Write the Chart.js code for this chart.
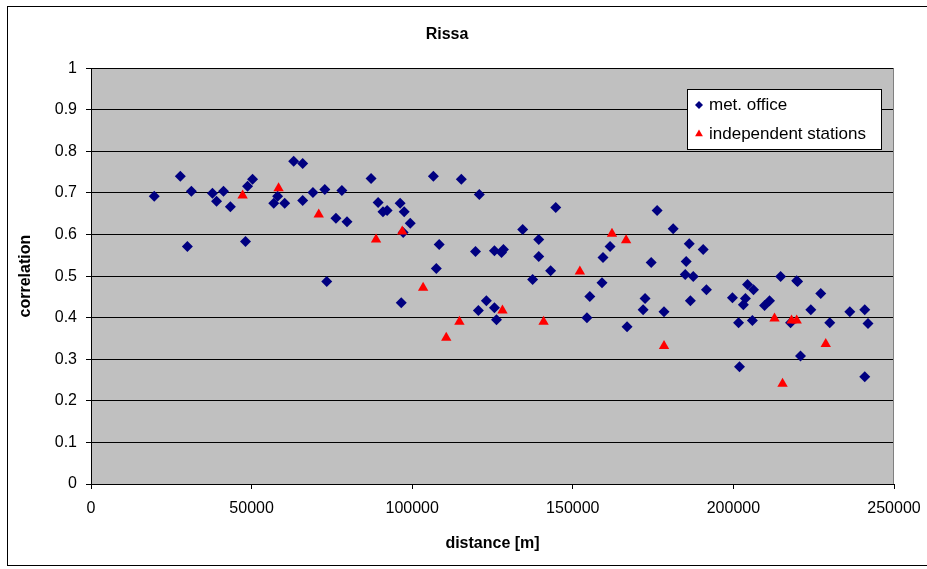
<!DOCTYPE html>
<html>
<head>
<meta charset="utf-8">
<script src="https://cdn.jsdelivr.net/npm/chart.js@4.4.1/dist/chart.umd.min.js"></script>
<style>
  html, body { margin: 0; padding: 0; background: #fff; }
  #wrap { width: 927px; height: 569px; }
</style>
</head>
<body>
<div id="wrap"><canvas id="rissaChart" width="927" height="569"></canvas></div>
<script>
// met. office stations
let metDistance = [19700, 27800, 30000, 31250, 37800, 39100, 41250, 43400, 48100, 48750,
    50300, 56900, 58100, 60300, 63100, 65900, 65900, 69100, 72800, 73400,
    76250, 78100, 79700, 87200, 89400, 90900, 92200, 96250, 96600, 97200,
    97500, 99400, 106600, 107500, 108400, 115300, 119700, 120600, 120900, 123100,
    125600, 125600, 126250, 127800, 128400, 134400, 137500, 139400, 139400, 143100,
    144700, 154400, 155300, 159100, 159400, 161600, 166900, 171900, 172500, 174400,
    176250, 178400, 181250, 185000, 185300, 186250, 186600, 187500, 190600, 191600,
    199700, 201600, 201900, 203100, 203750, 204400, 205900, 206250, 209700, 211250,
    214700, 217800, 219700, 220000, 220900, 224100, 227200, 230000, 236250, 240900,
    240900, 241900];
let metCorr = [0.692, 0.740, 0.571, 0.704, 0.699, 0.680, 0.704, 0.667, 0.583, 0.716,
    0.733, 0.675, 0.692, 0.675, 0.776, 0.771, 0.682, 0.701, 0.708, 0.487,
    0.639, 0.706, 0.631, 0.735, 0.677, 0.655, 0.658, 0.675, 0.436, 0.605,
    0.655, 0.627, 0.740, 0.518, 0.576, 0.733, 0.559, 0.417, 0.696, 0.441,
    0.424, 0.561, 0.395, 0.557, 0.564, 0.612, 0.492, 0.588, 0.547, 0.513,
    0.665, 0.400, 0.451, 0.484, 0.545, 0.571, 0.378, 0.419, 0.446, 0.533,
    0.658, 0.414, 0.614, 0.504, 0.535, 0.578, 0.441, 0.499, 0.564, 0.467,
    0.448, 0.388, 0.282, 0.431, 0.446, 0.480, 0.393, 0.467, 0.429, 0.441,
    0.499, 0.388, 0.489, 0.487, 0.308, 0.419, 0.458, 0.388, 0.414, 0.419,
    0.258, 0.386];

// independent stations
let indDistance = [47200, 58400, 70900, 88750, 96900, 103400, 110600, 114700, 128100, 140900,
    152200, 162200, 166600, 178400, 212800, 215300, 218100, 219700, 228750];
let indCorr = [0.694, 0.711, 0.648, 0.588, 0.607, 0.472, 0.352, 0.390, 0.417, 0.390,
    0.511, 0.602, 0.586, 0.332, 0.398, 0.241, 0.393, 0.393, 0.337];

let xTicks = [0, 50000, 100000, 150000, 200000, 250000];
let yTicks = [0, 0.1, 0.2, 0.3, 0.4, 0.5, 0.6, 0.7, 0.8, 0.9, 1];

const FONT = "'Liberation Sans', Arial, sans-serif";

function toPoints(xs, ys) {
    return xs.map(function (x, i) { return { x: x, y: ys[i] }; });
}

// grey plot area, outer frame and right border
const plotBackground = {
    id: "plotBackground",
    beforeDraw: function (chart) {
        let ctx = chart.ctx;
        let a = chart.chartArea;
        ctx.save();
        ctx.fillStyle = "#fff";
        ctx.fillRect(0, 0, chart.width, chart.height);
        ctx.strokeStyle = "#000";
        ctx.lineWidth = 1;
        ctx.strokeRect(7.5, 6.5, chart.width + 10, chart.height - 10);
        ctx.fillStyle = "#c0c0c0";
        ctx.fillRect(a.left, a.top, a.right - a.left, a.bottom - a.top);
        ctx.restore();
    },
    beforeDatasetsDraw: function (chart) {
        let ctx = chart.ctx;
        let a = chart.chartArea;
        ctx.save();
        ctx.strokeStyle = "#808080";
        ctx.lineWidth = 1;
        ctx.beginPath();
        ctx.moveTo(Math.round(a.right) - 0.5, a.top);
        ctx.lineTo(Math.round(a.right) - 0.5, a.bottom);
        ctx.stroke();
        ctx.restore();
    }
};

// legend box inside the plot area
const boxLegend = {
    id: "boxLegend",
    afterDraw: function (chart) {
        let ctx = chart.ctx;
        let bx = 687, by = 89, bw = 194, bh = 60;
        ctx.save();
        ctx.fillStyle = "#fff";
        ctx.fillRect(bx, by, bw, bh);
        ctx.strokeStyle = "#000";
        ctx.lineWidth = 1;
        ctx.strokeRect(bx + 0.5, by + 0.5, bw, bh);
        ctx.font = "17px " + FONT;
        ctx.textBaseline = "middle";
        chart.data.datasets.forEach(function (ds, i) {
            let cy = by + 16 + i * 29;
            ctx.fillStyle = ds.backgroundColor;
            ctx.strokeStyle = ds.borderColor;
            Chart.helpers.drawPoint(ctx, {
                pointStyle: ds.pointStyle,
                radius: i === 0 ? 4 : 4.5,
                borderWidth: 0,
                rotation: 0
            }, bx + 12, cy);
            ctx.fillStyle = "#000";
            ctx.fillText(ds.label, bx + 22, cy);
        });
        ctx.restore();
    }
};

document.addEventListener("DOMContentLoaded", function () {
    let ctx = document.getElementById("rissaChart").getContext("2d");

    new Chart(ctx, {
        type: "scatter",
        data: {
            datasets: [{
                label: "met. office",
                data: toPoints(metDistance, metCorr),
                pointStyle: "rectRot",
                pointRadius: 5.5,
                backgroundColor: "#000080",
                borderColor: "#000080",
                borderWidth: 0,
                order: 2
            }, {
                label: "independent stations",
                data: toPoints(indDistance, indCorr),
                pointStyle: "triangle",
                pointRadius: 6,
                backgroundColor: "#ff0000",
                borderColor: "#ff0000",
                borderWidth: 0,
                order: 1
            }]
        },
        options: {
            responsive: false,
            animation: false,
            events: [],
            layout: { padding: { left: 0, right: 33, top: 0, bottom: 0 } },
            plugins: {
                legend: { display: false },
                tooltip: { enabled: false },
                title: {
                    display: true,
                    text: "Rissa",
                    color: "#000",
                    font: { family: FONT, size: 16, weight: "bold" },
                    padding: { top: 25, bottom: 24 }
                }
            },
            scales: {
                x: {
                    type: "linear",
                    min: 0,
                    max: 250000,
                    afterBuildTicks: function (scale) {
                        scale.ticks = xTicks.map(function (v) { return { value: v }; });
                    },
                    afterFit: function (scale) {
                        scale.height = 85;
                        scale.paddingRight = 0;
                        scale.paddingLeft = 0;
                    },
                    ticks: {
                        color: "#000",
                        font: { family: FONT, size: 16 },
                        padding: 10,
                        maxRotation: 0,
                        callback: function (v) { return String(v); }
                    },
                    grid: {
                        drawOnChartArea: false,
                        drawTicks: true,
                        tickLength: 5,
                        color: "#000"
                    },
                    border: { color: "#000", width: 1 },
                    title: {
                        display: true,
                        text: "distance [m]",
                        color: "#000",
                        font: { family: FONT, size: 16, weight: "bold" },
                        padding: { top: 0, bottom: 16 }
                    }
                },
                y: {
                    type: "linear",
                    min: 0,
                    max: 1,
                    afterBuildTicks: function (scale) {
                        scale.ticks = yTicks.map(function (v) { return { value: v }; });
                    },
                    afterFit: function (scale) { scale.width = 91; },
                    ticks: {
                        color: "#000",
                        font: { family: FONT, size: 16 },
                        padding: 9,
                        callback: function (v) { return String(v); }
                    },
                    grid: {
                        color: "#000",
                        lineWidth: 1,
                        drawTicks: true,
                        tickLength: 5
                    },
                    border: { color: "#000", width: 1 },
                    title: {
                        display: true,
                        text: "correlation",
                        color: "#000",
                        font: { family: FONT, size: 16, weight: "bold" },
                        padding: { top: 16, bottom: 0 }
                    }
                }
            }
        },
        plugins: [plotBackground, boxLegend]
    });
});
</script>
</body>
</html>
